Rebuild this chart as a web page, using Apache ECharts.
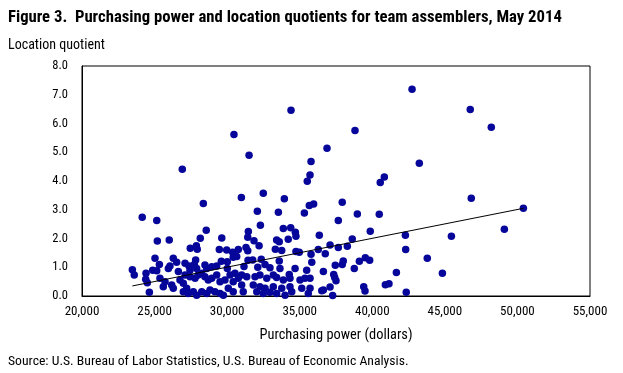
<!DOCTYPE html>
<html>
<head>
<meta charset="utf-8">
<script src="https://cdn.jsdelivr.net/npm/echarts@6/dist/echarts.min.js"></script>
<style>
html,body{margin:0;padding:0;background:#fff;}
#chart{width:623px;height:373px;}
</style>
</head>
<body>
<div id="chart"></div>
<script>
// Purchasing power (dollars), location quotient pairs for each area
const purchasingPower = [
 42740,34400,30470,38810,36880,31510,46750,48200,46820,50410,49100,45450,44830,43240,40830,40550,
 37930,38970,40480,37660,39860,42280,37660,38280,38620,42300,43790,37450,37930,38000,38760,39110,
 39520,39820,41660,37340,37410,37500,39410,39500,40900,41150,42340,37270,37090,37090,35780,35710,
 35520,30980,32490,33940,35660,35960,32080,33530,35320,32290,33870,34380,34700,34740,34210,36350,
 31460,31420,29630,31850,32200,33410,33590,33320,33760,36280,36760,29970,30380,30420,30770,31300,
 31420,34740,34970,35780,31440,31760,32350,26910,28360,24150,25150,28560,25190,26010,28150,27460,
 27880,27940,29460,25030,26290,26520,27100,27370,27440,27830,27740,23470,23600,24410,24390,24500,
 24870,25150,25330,24640,29600,30010,30660,25950,26060,25370,25600,25720,26180,26290,
 26750,26980,27210,27100,27440,27790,28010,28250,28470,28700,28940,29280,29510,29850,30200,30540,
 30420,30770,26980,27320,27670,27900,28250,28590,28820,29160,29510,29740,30080,30420,28590,28940,
 27900,26640,
 31160,32110,32610,32950,33590,33640,34680,34280,35480,35830,36630,31000,31350,31920,32260,32730,
 33180,33410,33870,34330,35020,35360,35710,31000,31800,32260,32610,33180,33760,34330,35140,35710,
 36630,31110,32040,32490,32950,33410,33990,34450,35590,36520,
 28470,29280,30010
];
const locationQuotient = [
 7.19,6.46,5.62,5.76,5.14,4.90,6.49,5.87,3.40,3.05,2.32,2.08,0.79,4.62,4.14,3.95,
 3.26,2.85,2.84,2.63,2.25,2.11,1.69,1.73,1.98,1.62,1.31,1.07,1.10,1.22,0.96,1.21,
 1.33,1.24,0.82,0.75,0.64,0.53,0.32,0.17,0.39,0.43,0.13,0.02,0.31,1.77,4.68,4.21,
 3.99,3.43,3.57,3.38,3.15,3.20,2.95,2.91,2.89,2.46,2.35,2.37,2.22,2.08,1.97,2.11,
 2.24,2.04,2.02,1.92,1.75,1.95,1.89,1.63,1.58,1.62,1.47,1.60,1.52,1.35,1.62,1.69,
 1.57,1.55,1.52,1.45,1.24,1.25,1.28,4.41,3.22,2.74,2.63,2.29,1.91,1.95,2.01,1.66,
 1.75,1.63,1.62,1.31,1.31,1.17,1.14,1.04,0.90,1.25,1.10,0.91,0.73,0.79,0.58,0.46,
 0.90,0.88,1.10,0.13,1.21,1.19,1.37,0.96,1.04,0.62,0.32,0.50,0.38,0.27,
 0.56,0.44,0.27,0.73,0.67,0.62,0.73,0.79,0.67,0.56,0.62,0.73,0.50,0.56,0.73,0.79,
 0.50,0.62,0.15,0.09,0.15,0.03,0.15,0.09,0.21,0.15,0.09,0.03,0.27,0.15,0.96,1.02,
 0.96,0.85,
 1.03,1.00,1.10,0.98,1.22,0.96,0.96,0.75,0.90,1.17,0.85,0.73,0.67,0.67,0.73,0.62,
 0.73,0.64,0.56,0.62,0.56,0.62,0.62,0.38,0.38,0.32,0.27,0.32,0.27,0.32,0.27,0.27,
 0.21,0.15,0.15,0.09,0.13,0.09,0.03,0.15,0.09,0.18,
 1.08,1.04,0.96
];
// Linear trend line endpoints
const trendX = [23470, 50410];
const trendY = [0.35, 3.05];
// Axis ticks
const xTicks = [20000, 25000, 30000, 35000, 40000, 45000, 50000, 55000];
const yTicks = [0, 1, 2, 3, 4, 5, 6, 7, 8];

const points = purchasingPower.map((x, i) => [x, locationQuotient[i]]);
const trend = trendX.map((x, i) => [x, trendY[i]]);

const FONT = '"Liberation Sans Narrow", "Roboto Condensed", "Open Sans", sans-serif';
const chart = echarts.init(document.getElementById('chart'), null, {renderer: 'canvas'});
chart.setOption({
  animation: false,
  backgroundColor: '#fff',
  title: [
    {text: 'Figure 3.  Purchasing power and location quotients for team assemblers, May 2014',
     left: 8, top: 9, padding: 0,
     textStyle: {fontFamily: FONT, fontSize: 16.7, fontWeight: 'bold', color: '#000'}},
    {text: 'Location quotient', left: 8, top: 38, padding: 0,
     textStyle: {fontFamily: FONT, fontSize: 14, fontWeight: 'normal', color: '#000'}},
    {text: 'Source: U.S. Bureau of Labor Statistics, U.S. Bureau of Economic Analysis.',
     left: 8, top: 355, padding: 0,
     textStyle: {fontFamily: FONT, fontSize: 13.7, fontWeight: 'normal', color: '#000'}}
  ],
  grid: {left: 82, right: 33, top: 66, bottom: 77, show: true, borderColor: '#000', borderWidth: 1, backgroundColor: 'transparent'},
  xAxis: {
    type: 'value', min: xTicks[0], max: xTicks[xTicks.length-1], interval: 5000,
    name: 'Purchasing power (dollars)', nameLocation: 'middle', nameGap: 32,
    nameTextStyle: {fontFamily: FONT, fontSize: 14.4, color: '#000'},
    axisLine: {show: true, lineStyle: {color: '#000', width: 1}},
    axisTick: {show: false},
    splitLine: {show: false},
    axisLabel: {fontFamily: FONT, fontSize: 13, color: '#000', margin: 9,
      formatter: v => v.toLocaleString('en-US')}
  },
  yAxis: {
    type: 'value', min: yTicks[0], max: yTicks[yTicks.length-1], interval: 1,
    axisLine: {show: true, lineStyle: {color: '#000', width: 1}},
    axisTick: {show: false},
    splitLine: {show: false},
    axisLabel: {fontFamily: FONT, fontSize: 12.5, color: '#000', margin: 14,
      formatter: v => v.toFixed(1)}
  },
  series: [
    {type: 'scatter', data: points, symbolSize: 7.5, itemStyle: {color: '#06069a', opacity: 1}, z: 2},
    {type: 'line', data: trend, symbol: 'none', lineStyle: {color: '#000', width: 1}, z: 3}
  ]
});
</script>
</body>
</html>
